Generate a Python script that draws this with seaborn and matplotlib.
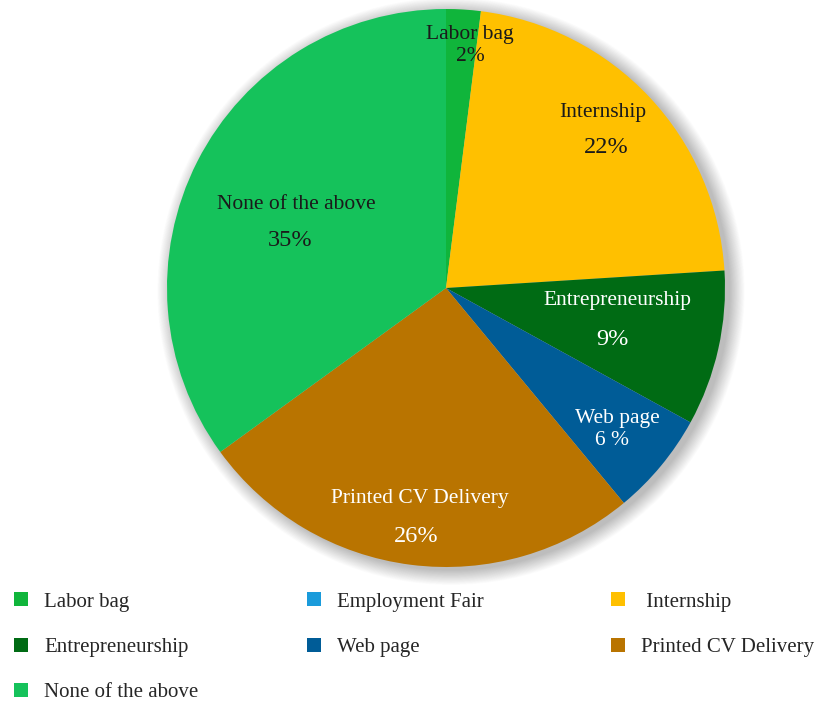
import matplotlib
matplotlib.use("Agg")
import matplotlib.pyplot as plt
import matplotlib.patches as mpatches
from matplotlib.lines import Line2D
import seaborn as sns

# data
categories = ["Labor bag", "Employment Fair", "Internship", "Entrepreneurship",
              "Web page", "Printed CV Delivery", "None of the above"]
shares = [2, 0, 22, 9, 6, 26, 35]
pct_labels = ["2%", "", "22%", "9%", "6 %", "26%", "35%"]
colors = ["#10B53B", "#1A9BDB", "#FFC000", "#006B14", "#005C97", "#B97400", "#15C25B"]

sns.set_theme(style="white")
plt.rcParams['font.family'] = ['Liberation Serif', 'DejaVu Serif']

W, H = 819, 701
fig = plt.figure(figsize=(W / 100, H / 100), dpi=100)
cx, cy, r = 446, 288, 279
ax = fig.add_axes([(cx - r) / W, (H - cy - r) / H, 2 * r / W, 2 * r / H])

# soft shadow behind the pie
for i in range(22):
    rr = 1.0 + 0.0025 * i
    ax.add_patch(mpatches.Circle((0.018, -0.012), rr, color="black",
                                 alpha=0.011, lw=0, zorder=0, clip_on=False))

wedges, _ = ax.pie(shares, colors=colors, startangle=90, counterclock=False,
                   radius=1, wedgeprops=dict(linewidth=0))
for w in wedges:
    w.set_zorder(2)

ax.set_xlim(-1, 1)
ax.set_ylim(-1, 1)
ax.set_aspect("equal")
ax.axis("off")

# label placement (name position, pct position, text colour)
name_pos = [(0.086, 0.91), None, (0.56, 0.63), (0.616, -0.045),
            (0.616, -0.466), (-0.093, -0.753), (-0.538, 0.298)]
pct_pos = [(0.086, 0.83), None, (0.573, 0.502), (0.595, -0.186),
           (0.595, -0.546), (-0.108, -0.892), (-0.559, 0.172)]
txt_col = ["#1a1a1a", None, "#1a1a1a", "white", "white", "white", "#1a1a1a"]
pct_size = [15.5, None, 17.5, 17.5, 15.5, 17.5, 17.5]

for i, cat in enumerate(categories):
    if name_pos[i] is None:
        continue
    ax.text(*name_pos[i], cat, ha="center", va="center", color=txt_col[i],
            fontsize=15.5, zorder=5)
    ax.text(*pct_pos[i], pct_labels[i], ha="center", va="center", color=txt_col[i],
            fontsize=pct_size[i], zorder=5)

# legend, laid out row by row in three columns
def handle(c):
    return Line2D([], [], marker="s", linestyle="", markersize=10.5,
                  markerfacecolor=colors[c], markeredgewidth=0)

col_groups = [[0, 3, 6], [1, 4], [2, 5]]
col_x = [15 / W, 308 / W, 612 / W]
for g, x0 in zip(col_groups, col_x):
    fig.legend([handle(c) for c in g],
               [(" " + categories[c]) if categories[c] == "Internship" else categories[c] for c in g],
               loc="upper left", bbox_to_anchor=(x0, 1 - 592 / H),
               frameon=False, fontsize=15, labelspacing=1.24,
               handlelength=0.6, handletextpad=0.8, borderpad=0, borderaxespad=0)

fig.savefig("out.png", dpi=100, facecolor="white")
